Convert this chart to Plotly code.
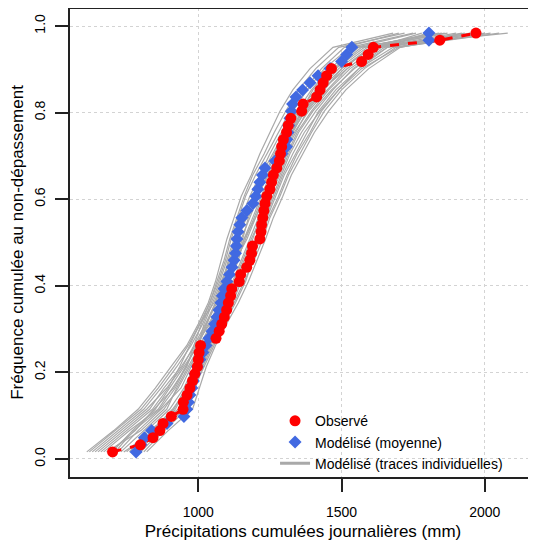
import plotly.graph_objects as go

# plotting positions (Weibull, n = 60)
freq = [0.0164, 0.0328, 0.0492, 0.0656, 0.0820, 0.0984, 0.1148, 0.1311, 0.1475, 0.1639,
        0.1803, 0.1967, 0.2131, 0.2295, 0.2459, 0.2623, 0.2787, 0.2951, 0.3115, 0.3279,
        0.3443, 0.3607, 0.3770, 0.3934, 0.4098, 0.4262, 0.4426, 0.4590, 0.4754, 0.4918,
        0.5082, 0.5246, 0.5410, 0.5574, 0.5738, 0.5902, 0.6066, 0.6230, 0.6393, 0.6557,
        0.6721, 0.6885, 0.7049, 0.7213, 0.7377, 0.7541, 0.7705, 0.7869, 0.8033, 0.8197,
        0.8361, 0.8525, 0.8689, 0.8852, 0.9016, 0.9180, 0.9344, 0.9508, 0.9672, 0.9836]

observe = [701, 798, 842, 866, 877, 906, 947, 948, 961, 971,
           980, 988, 997, 1000, 1003, 1008, 1062, 1073, 1082, 1091,
           1099, 1105, 1113, 1117, 1143, 1148, 1169, 1180, 1186, 1189,
           1215, 1219, 1221, 1225, 1229, 1233, 1239, 1250, 1256, 1262,
           1274, 1283, 1287, 1291, 1297, 1308, 1314, 1323, 1361, 1366,
           1413, 1425, 1436, 1448, 1465, 1570, 1593, 1611, 1843, 1969]

moyenne = [783, 800, 812, 837, 891, 950, 960, 966, 971, 978,
           983, 988, 997, 1006, 1016, 1027, 1037, 1048, 1057, 1065,
           1072, 1079, 1084, 1090, 1100, 1109, 1118, 1125, 1130, 1133,
           1135, 1139, 1145, 1152, 1170, 1191, 1201, 1208, 1215, 1224,
           1233, 1268, 1292, 1308, 1309, 1313, 1316, 1320, 1325, 1329,
           1341, 1364, 1390, 1418, 1460, 1500, 1518, 1536, 1805, 1805]

# individual simulated traces, read at every third plotting position
freq_sim = [0.0164, 0.0656, 0.1148, 0.1639, 0.2131, 0.2623, 0.3115, 0.3607, 0.4098, 0.4590,
            0.5082, 0.5574, 0.6066, 0.6557, 0.7049, 0.7541, 0.8033, 0.8525, 0.9016, 0.9508, 0.9836]

traces = [
    [611, 705, 790, 850, 905, 960, 1000, 1035, 1060, 1080, 1100, 1125, 1150, 1185, 1215, 1250, 1285, 1330, 1390, 1470, 1680],
    [820, 895, 980, 1005, 1028, 1060, 1098, 1140, 1175, 1205, 1235, 1262, 1295, 1325, 1365, 1405, 1455, 1515, 1595, 1705, 1960],
    [650, 740, 830, 880, 940, 990, 1040, 1070, 1100, 1120, 1150, 1180, 1210, 1240, 1280, 1320, 1360, 1400, 1470, 1560, 1850],
    [700, 770, 850, 900, 950, 1000, 1030, 1060, 1090, 1130, 1170, 1200, 1230, 1270, 1300, 1340, 1380, 1440, 1500, 1600, 2080],
    [680, 800, 880, 930, 970, 1010, 1050, 1090, 1120, 1150, 1180, 1210, 1240, 1265, 1290, 1330, 1370, 1430, 1520, 1620, 1900],
    [760, 820, 900, 950, 985, 1020, 1060, 1100, 1140, 1170, 1200, 1230, 1260, 1290, 1320, 1360, 1410, 1470, 1540, 1650, 1800],
    [720, 790, 870, 940, 975, 1000, 1020, 1050, 1080, 1110, 1140, 1165, 1190, 1220, 1260, 1300, 1350, 1410, 1480, 1580, 1820],
    [790, 860, 920, 960, 1000, 1040, 1080, 1120, 1150, 1180, 1210, 1240, 1270, 1300, 1340, 1380, 1420, 1480, 1560, 1680, 2000],
    [630, 720, 810, 870, 925, 975, 1015, 1045, 1075, 1100, 1125, 1150, 1180, 1215, 1250, 1290, 1330, 1380, 1440, 1530, 1750],
    [740, 850, 940, 980, 1010, 1045, 1075, 1105, 1130, 1160, 1190, 1215, 1245, 1280, 1310, 1345, 1395, 1455, 1530, 1640, 1950],
    [670, 760, 860, 910, 960, 985, 1010, 1040, 1070, 1095, 1115, 1140, 1165, 1200, 1240, 1280, 1320, 1370, 1430, 1510, 1700],
    [810, 880, 960, 990, 1015, 1050, 1085, 1125, 1160, 1195, 1225, 1250, 1285, 1315, 1355, 1395, 1440, 1500, 1580, 1690, 2050],
    [690, 780, 845, 915, 955, 995, 1035, 1080, 1110, 1140, 1160, 1190, 1220, 1250, 1275, 1310, 1355, 1420, 1490, 1590, 1870],
    [770, 840, 910, 965, 995, 1030, 1065, 1085, 1105, 1130, 1160, 1200, 1235, 1260, 1295, 1335, 1385, 1450, 1520, 1620, 1780],
    [640, 730, 820, 890, 945, 985, 1025, 1060, 1085, 1110, 1135, 1160, 1195, 1230, 1265, 1305, 1345, 1395, 1460, 1550, 1760],
    [750, 830, 930, 975, 1005, 1040, 1070, 1110, 1145, 1175, 1205, 1235, 1265, 1295, 1330, 1370, 1425, 1490, 1560, 1660, 1920],
    [660, 750, 840, 895, 935, 970, 1005, 1055, 1085, 1105, 1130, 1170, 1200, 1235, 1270, 1315, 1365, 1425, 1500, 1610, 1860],
    [730, 810, 890, 925, 965, 1005, 1045, 1075, 1095, 1125, 1155, 1175, 1205, 1245, 1285, 1325, 1375, 1435, 1510, 1600, 1990],
    [620, 710, 800, 860, 915, 965, 1005, 1040, 1065, 1090, 1110, 1135, 1160, 1190, 1230, 1265, 1305, 1350, 1410, 1490, 1720],
    [800, 870, 950, 985, 1020, 1055, 1090, 1130, 1165, 1190, 1215, 1245, 1280, 1310, 1345, 1390, 1430, 1490, 1570, 1700, 2020],
    [710, 775, 865, 920, 958, 992, 1028, 1065, 1100, 1135, 1165, 1195, 1225, 1255, 1290, 1325, 1365, 1415, 1475, 1570, 1840],
    [780, 845, 915, 955, 990, 1025, 1060, 1095, 1125, 1155, 1185, 1220, 1250, 1285, 1315, 1350, 1400, 1465, 1545, 1660, 1930],
]

GRAY = "#A9A9A9"
FONT = "Liberation Sans, Arial, sans-serif"

fig = go.Figure()

# all simulated traces in one scatter, separated by None
gx, gy = [], []
for t in traces:
    gx += t + [None]
    gy += freq_sim + [None]
fig.add_trace(go.Scatter(x=gx, y=gy, mode="lines", showlegend=False,
                         line=dict(color=GRAY, width=1.2)))

# red dashed line joining observations
fig.add_trace(go.Scatter(x=observe, y=freq, mode="lines", showlegend=False,
                         line=dict(color="red", width=3, dash="dash")))

fig.add_trace(go.Scatter(x=moyenne, y=freq, mode="markers", name="Modélisé (moyenne)",
                         legendrank=2,
                         marker=dict(symbol="diamond", color="#4169E1", size=10)))
fig.add_trace(go.Scatter(x=observe, y=freq, mode="markers", name="Observé",
                         legendrank=1,
                         marker=dict(symbol="circle", color="red", size=11)))
# legend entry only
fig.add_trace(go.Scatter(x=[None], y=[None], mode="lines", name="Modélisé (traces individuelles)",
                         legendrank=3, line=dict(color=GRAY, width=3)))

# the page body adds an 8px margin, so the figure is 8px smaller than the window
fig.update_layout(
    width=528, height=534,
    margin=dict(l=62, r=0, t=0, b=65),
    plot_bgcolor="white", paper_bgcolor="white",
    font=dict(family=FONT, size=14, color="black"),
    legend=dict(x=0.44, y=0.153, xanchor="left", yanchor="top",
                bgcolor="rgba(0,0,0,0)", font=dict(size=14), tracegroupgap=0,
                itemwidth=30),
    shapes=[dict(type="line", xref="paper", yref="paper", x0=0, x1=1, y0=1, y1=1,
                 line=dict(color="#222222", width=2))],
)

fig.update_xaxes(
    range=[552.4, 2178.6], tickvals=[1000, 1500, 2000],
    showgrid=True, gridcolor="#D3D3D3", griddash="dot", gridwidth=1,
    zeroline=False, showline=True, linecolor="#222222", linewidth=2,
    ticks="outside", ticklen=13, tickwidth=2, tickcolor="#222222",
    ticklabelstandoff=8, automargin=False,
    title=dict(text="Précipitations cumulées journalières (mm)", standoff=6),
)
fig.update_yaxes(
    range=[-0.0416, 1.0416], tickvals=[0, 0.2, 0.4, 0.6, 0.8, 1.0],
    ticktext=["0.0", "0.2", "0.4", "0.6", "0.8", "1.0"], tickangle=-90,
    showgrid=True, gridcolor="#D3D3D3", griddash="dot", gridwidth=1,
    zeroline=False, showline=True, linecolor="#222222", linewidth=2,
    ticks="outside", ticklen=13, tickwidth=2, tickcolor="#222222",
    ticklabelstandoff=4, automargin=False,
    title=dict(text="Fréquence cumulée au non-dépassement", standoff=6),
)

fig.write_html("out.html")
